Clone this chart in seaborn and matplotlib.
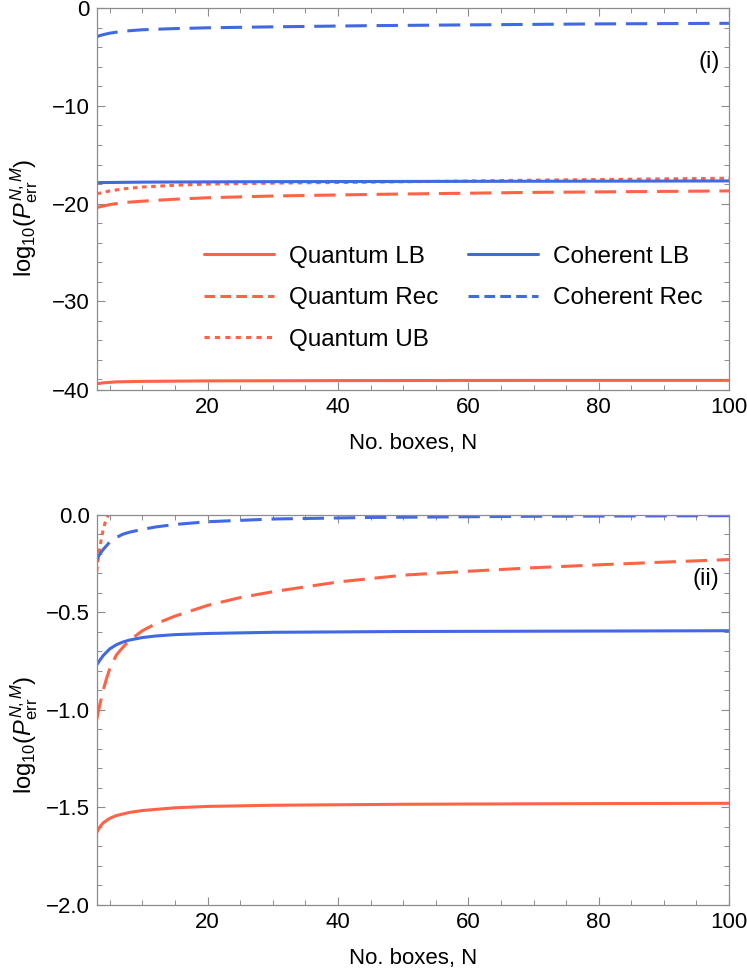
import numpy as np
import pandas as pd
import matplotlib
matplotlib.use("Agg")
import matplotlib.pyplot as plt
from matplotlib.lines import Line2D
from matplotlib.ticker import MultipleLocator
import seaborn as sns

# ---- data ----
# panel (i)
n_qlb_1 = [3, 4, 6, 10, 20, 40, 70, 100]
qlb_1 = [-38.45, -38.35, -38.25, -38.2, -38.15, -38.12, -38.1, -38.1]
n_qrec_1 = [3, 4, 5, 7, 10, 15, 20, 30, 46, 70, 100]
qrec_1 = [-20.4, -20.25, -20.1, -19.9, -19.75, -19.55, -19.4, -19.22, -19.05, -18.85, -18.7]
n_qub_1 = [3, 4, 5, 7, 10, 15, 20, 30, 46, 70, 100]
qub_1 = [-19.0, -18.85, -18.7, -18.5, -18.3, -18.12, -18.0, -17.9, -17.8, -17.6, -17.4]
n_clb_1 = [3, 10, 30, 60, 100]
clb_1 = [-17.85, -17.8, -17.75, -17.72, -17.68]
n_crec_1 = [3, 3.5, 4, 5, 6, 8, 10, 15, 20, 30, 45, 60, 80, 100]
crec_1 = [-2.9, -2.8, -2.7, -2.55, -2.45, -2.3, -2.2, -2.08, -2.0, -1.9, -1.78, -1.7, -1.6, -1.54]

# panel (ii)
n_qlb_2 = [3, 3.5, 4, 5, 6, 8, 10, 15, 20, 30, 50, 75, 100]
qlb_2 = [-1.63, -1.6, -1.58, -1.557, -1.543, -1.527, -1.517, -1.503, -1.496, -1.49, -1.485, -1.482, -1.48]
n_qrec_2 = [3, 3.5, 4, 4.5, 5, 6, 7, 8, 9, 10, 12, 15, 20, 25, 30, 40, 50, 60, 70, 80, 90, 100]
qrec_2 = [-1.05, -0.97, -0.9, -0.84, -0.79, -0.72, -0.68, -0.645, -0.62, -0.595, -0.56, -0.52,
          -0.465, -0.425, -0.395, -0.345, -0.31, -0.29, -0.272, -0.257, -0.243, -0.23]
n_qub_2 = [3, 3.25, 3.5, 3.75, 4, 4.25, 4.5, 4.8, 5.2]
qub_2 = [-0.29, -0.22, -0.165, -0.115, -0.075, -0.045, -0.02, 0.0, 0.04]
n_clb_2 = [3, 3.5, 4, 5, 6, 7, 8, 10, 12, 15, 20, 30, 50, 75, 100]
clb_2 = [-0.77, -0.745, -0.722, -0.688, -0.667, -0.653, -0.643, -0.63, -0.622, -0.615, -0.609,
         -0.603, -0.599, -0.597, -0.595]
n_crec_2 = [3, 3.5, 4, 5, 6, 7, 8, 10, 12, 15, 20, 30, 45, 70, 100]
crec_2 = [-0.23, -0.2, -0.178, -0.14, -0.117, -0.1, -0.09, -0.075, -0.063, -0.05, -0.036,
          -0.022, -0.014, -0.008, -0.005]

labels = ["Quantum LB", "Quantum Rec", "Quantum UB", "Coherent LB", "Coherent Rec"]
red = "#FF6347"
blue = "#4169E1"
palette = {"Quantum LB": red, "Quantum Rec": red, "Quantum UB": red,
           "Coherent LB": blue, "Coherent Rec": blue}
dashes = {"Quantum LB": "", "Quantum Rec": (7, 3.2), "Quantum UB": (1.5, 1.5),
          "Coherent LB": "", "Coherent Rec": (7, 3.2)}


def make_df(series):
    parts = []
    for name, (n, v) in zip(labels, series):
        parts.append(pd.DataFrame({"N": n, "val": v, "series": name}))
    return pd.concat(parts, ignore_index=True)


df1 = make_df([(n_qlb_1, qlb_1), (n_qrec_1, qrec_1), (n_qub_1, qub_1),
               (n_clb_1, clb_1), (n_crec_1, crec_1)])
df2 = make_df([(n_qlb_2, qlb_2), (n_qrec_2, qrec_2), (n_qub_2, qub_2),
               (n_clb_2, clb_2), (n_crec_2, crec_2)])

sns.set_style("ticks")
plt.rcParams["font.family"] = ["Liberation Sans", "DejaVu Sans"]
plt.rcParams["mathtext.fontset"] = "custom"
plt.rcParams["mathtext.rm"] = "Liberation Sans"
plt.rcParams["mathtext.it"] = "Liberation Sans:italic"
plt.rcParams["text.color"] = "black"
plt.rcParams["axes.labelcolor"] = "black"

fig = plt.figure(figsize=(7.47, 9.73), dpi=100)
ax1 = fig.add_axes([0.1295, 0.5992, 0.8465, 0.3923])
ax2 = fig.add_axes([0.1295, 0.0702, 0.8465, 0.4008])

frame = "#8c8c8c"
ylab = r"$\mathrm{log}_{10}(P_{\mathrm{err}}^{N,M})$"

for ax, df in [(ax1, df1), (ax2, df2)]:
    sns.lineplot(data=df, x="N", y="val", hue="series", style="series",
                 hue_order=labels, style_order=labels, palette=palette,
                 dashes=dashes, estimator=None, linewidth=2.2, ax=ax, legend=False)
    ax.set_xlim(3, 100)
    ax.xaxis.set_major_locator(MultipleLocator(20))
    ax.xaxis.set_minor_locator(MultipleLocator(5))
    ax.set_xlabel("No. boxes, N", fontsize=16, labelpad=11)
    ax.set_ylabel(ylab, fontsize=17)
    for s in ax.spines.values():
        s.set_color(frame)
        s.set_linewidth(0.9)
    ax.tick_params(which="both", direction="in", top=True, right=True,
                   color=frame, labelcolor="black", labelsize=16, pad=5)
    ax.tick_params(which="major", length=6, width=0.8)
    ax.tick_params(which="minor", length=3.5, width=0.7)

ax1.set_ylim(-39.08, 0)
ax1.set_yticks([0, -10, -20, -30, -39.08])
ax1.set_yticklabels(["0", "\u221210", "\u221220", "\u221230", "\u221240"])
ax1.yaxis.set_minor_locator(MultipleLocator(2))
ax1.yaxis.set_label_coords(-0.09, 0.45)
ax1.text(0.985, 0.86, "(i)", transform=ax1.transAxes, fontsize=17,
         ha="right", va="center")

ax2.set_ylim(-2, 0)
ax2.set_yticks([0, -0.5, -1.0, -1.5, -2.0])
ax2.set_yticklabels(["0.0", "\u22120.5", "\u22121.0", "\u22121.5", "\u22122.0"])
ax2.yaxis.set_minor_locator(MultipleLocator(0.1))
ax2.yaxis.set_label_coords(-0.09, 0.435)
ax2.text(0.985, 0.835, "(ii)", transform=ax2.transAxes, fontsize=17,
         ha="right", va="center")

handles = [
    Line2D([], [], color=red, lw=2.2),
    Line2D([], [], color=red, lw=2.2, dashes=(3.5, 1.7)),
    Line2D([], [], color=red, lw=2.2, dashes=(1.7, 1.7)),
    Line2D([], [], color=blue, lw=2.2),
    Line2D([], [], color=blue, lw=2.2, dashes=(3.5, 1.7)),
]
ax1.legend(handles, labels, ncol=2, frameon=False, fontsize=17.5,
           handlelength=2.9, handletextpad=0.6, columnspacing=1.2,
           labelspacing=0.8, loc="center left", bbox_to_anchor=(0.135, 0.24))

fig.savefig("out.png", dpi=100)
